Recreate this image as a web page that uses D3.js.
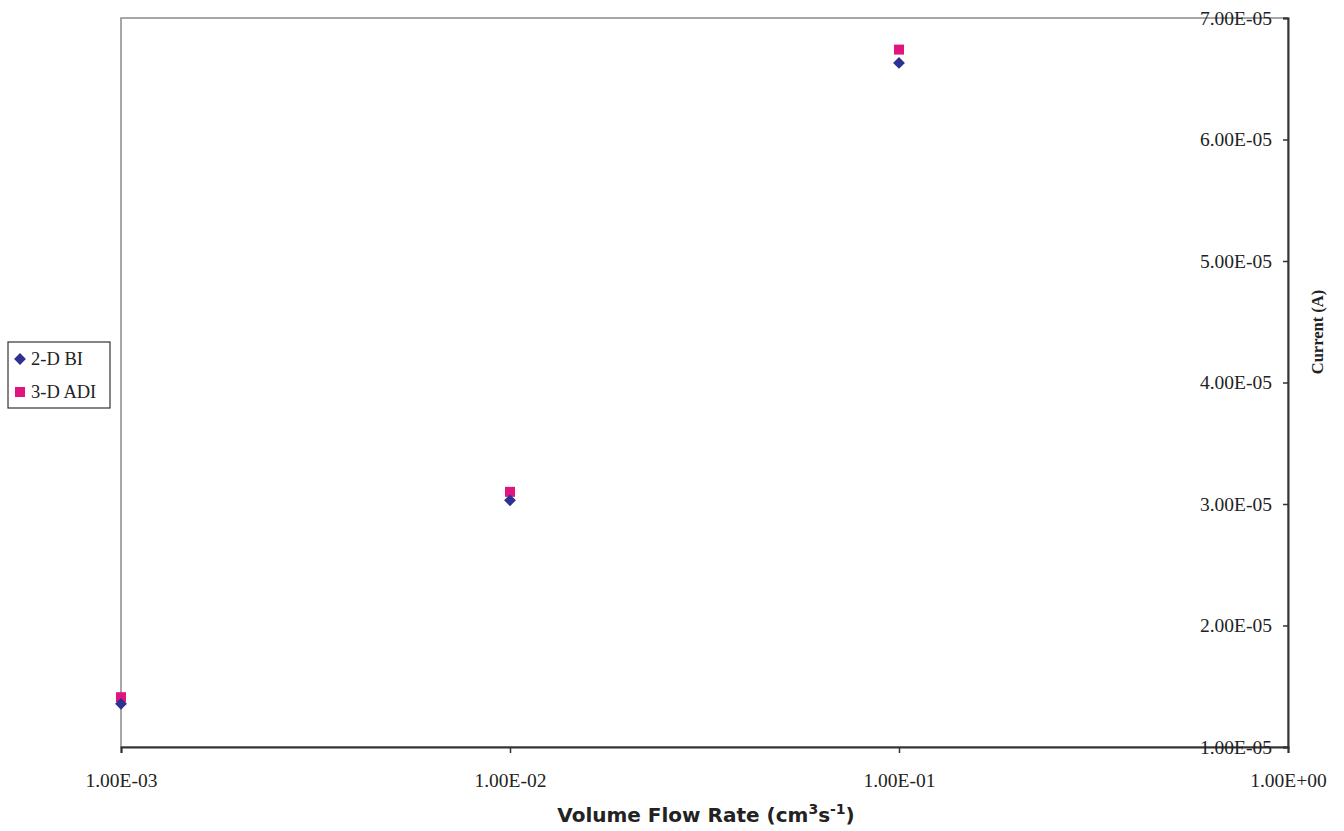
<!DOCTYPE html>
<html>
<head>
<meta charset="utf-8">
<script src="https://d3js.org/d3.v7.min.js"></script>
<style>
  body { margin: 0; background: #fff; }
</style>
</head>
<body>
<div id="chart"></div>
<script>
// flow rates (cm3/s) and currents (A)
var flowRates = [1e-3, 1e-2, 1e-1];
var bi2d = [1.355e-5, 3.03e-5, 6.63e-5];
var adi3d = [1.41e-5, 3.10e-5, 6.74e-5];
var xTicks = [1e-3, 1e-2, 1e-1, 1e0];
var yTicks = [1e-5, 2e-5, 3e-5, 4e-5, 5e-5, 6e-5, 7e-5];

var W = 1344, H = 831;
var pLeft = 121, pRight = 1288, pTop = 18, pBottom = 747;
var serif = "Liberation Serif, Times New Roman, serif";

var svg = d3.select("#chart").append("svg")
    .attr("width", W).attr("height", H);

var x = d3.scaleLog().domain([1e-3, 1]).range([pLeft, pRight]);
var y = d3.scaleLinear().domain([1e-5, 7e-5]).range([pBottom, pTop]);

var fmt = function(v) { return v.toExponential(2).toUpperCase().replace(/E([+-])(\d)$/, "E$10$2"); };

// plot frame
svg.append("rect")
    .attr("x", pLeft).attr("y", pTop)
    .attr("width", pRight - pLeft).attr("height", pBottom - pTop)
    .attr("fill", "none").attr("stroke", "#8a8a8a").attr("stroke-width", 1.5);

// x axis
var xAxis = svg.append("g")
    .attr("transform", "translate(0," + pBottom + ")")
    .call(d3.axisBottom(x).tickValues(xTicks).tickFormat(fmt).tickSize(6).tickPadding(20));
xAxis.select(".domain").attr("stroke", "#333").attr("stroke-width", 2);
xAxis.selectAll(".tick line").attr("stroke", "#333").attr("stroke-width", 1.5);
xAxis.selectAll("text").attr("font-family", serif)
    .attr("font-size", 19.5).attr("fill", "#222");

// right y axis, labels drawn inside
var yAxis = svg.append("g")
    .attr("transform", "translate(" + pRight + ",0)")
    .call(d3.axisLeft(y).tickValues(yTicks).tickFormat(fmt).tickSize(5).tickPadding(11));
yAxis.select(".domain").attr("stroke", "#333").attr("stroke-width", 2);
yAxis.selectAll(".tick line").attr("stroke", "#333").attr("stroke-width", 1.5);
yAxis.selectAll("text").attr("font-family", serif)
    .attr("font-size", 19.5).attr("fill", "#222");

// markers: square-ish diamond and square
var diamondType = {
    draw: function(ctx, size) {
        var r = Math.sqrt(size / 2);
        ctx.moveTo(0, -r); ctx.lineTo(r, 0); ctx.lineTo(0, r); ctx.lineTo(-r, 0); ctx.closePath();
    }
};
var diamond = d3.symbol().type(diamondType).size(70);
var square = d3.symbol().type(d3.symbolSquare).size(100);

svg.append("g").selectAll("path")
    .data(flowRates.map(function(f, i) { return [f, adi3d[i]]; }))
    .enter().append("path")
    .attr("d", square)
    .attr("transform", function(d) { return "translate(" + x(d[0]) + "," + y(d[1]) + ")"; })
    .attr("fill", "#e0157f");

svg.append("g").selectAll("path")
    .data(flowRates.map(function(f, i) { return [f, bi2d[i]]; }))
    .enter().append("path")
    .attr("d", diamond)
    .attr("transform", function(d) { return "translate(" + x(d[0]) + "," + y(d[1]) + ")"; })
    .attr("fill", "#2e3192");

// axis titles
svg.append("text")
    .attr("x", 706).attr("y", 822)
    .attr("text-anchor", "middle")
    .attr("font-family", "DejaVu Sans, sans-serif")
    .attr("font-weight", "bold").attr("font-size", 20).attr("fill", "#222")
    .html('Volume Flow Rate (cm<tspan dy="-8" font-size="14">3</tspan><tspan dy="8">s</tspan><tspan dy="-8" font-size="14">-1</tspan><tspan dy="8">)</tspan>');

svg.append("text")
    .attr("transform", "translate(1323,332) rotate(-90)")
    .attr("text-anchor", "middle")
    .attr("font-family", serif)
    .attr("font-weight", "bold").attr("font-size", 16.5).attr("fill", "#222")
    .text("Current (A)");

// legend
var legend = svg.append("g");
legend.append("rect")
    .attr("x", 8).attr("y", 342).attr("width", 102).attr("height", 66)
    .attr("fill", "#fff").attr("stroke", "#333").attr("stroke-width", 1.2);
var items = [["2-D BI", diamond, "#2e3192"], ["3-D ADI", square, "#e0157f"]];
items.forEach(function(it, i) {
    var cy = 359 + i * 33;
    legend.append("path").attr("d", it[1])
        .attr("transform", "translate(20," + cy + ")").attr("fill", it[2]);
    legend.append("text").attr("x", 31).attr("y", cy + 6)
        .attr("font-family", serif)
        .attr("font-size", 18.5).attr("fill", "#222").text(it[0]);
});
</script>
</body>
</html>
